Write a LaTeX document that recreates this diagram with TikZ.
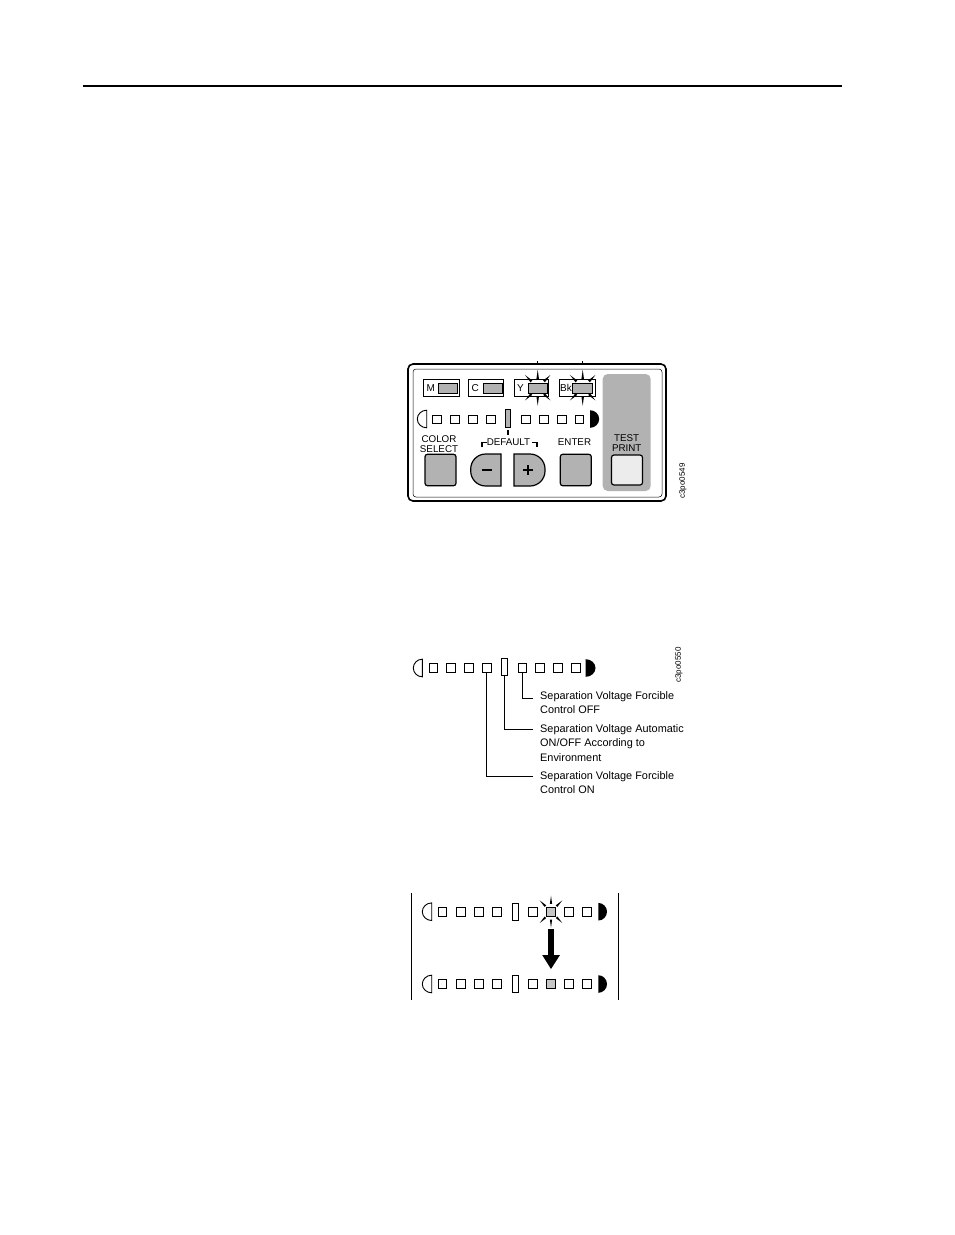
\documentclass[tikz,border=0pt]{standalone}
\usepackage{fontspec}
\setmainfont{Liberation Sans}
\tikzset{
  ledbox/.style={draw, line width=0.8pt, fill=white, minimum size=8.6pt, inner sep=0pt},
  ledlit/.style={ledbox, fill=gray!45},
  ledtall/.style={draw, line width=0.8pt, fill=white, minimum width=5.4pt, minimum height=17pt, inner sep=0pt},
  inkbox/.style={draw, line width=0.7pt, fill=white, minimum height=17pt, inner sep=0pt},
  inkbar/.style={draw, line width=0.8pt, fill=gray!60, minimum height=10pt, inner sep=0pt},
  inktxt/.style={font=\fontsize{10}{11}\selectfont, anchor=west, inner sep=0pt},
  panelbtn/.style={draw, line width=1.2pt, fill=gray!60, rounded corners=2.5pt, minimum width=31pt, minimum height=31.5pt, inner sep=0pt},
  paneltxt/.style={font=\fontsize{9.8}{10.4}\selectfont, align=center, inner sep=0pt},
  calltxt/.style={font=\fontsize{10.9}{14.2}\selectfont, align=left, anchor=north west, inner sep=0pt},
  figid/.style={font=\fontsize{8}{9}\selectfont, rotate=90, inner sep=0pt},
  leader/.style={line width=0.8pt},
}
% spikes round a blinking lamp
\newcommand{\blink}[4]{%
  \foreach \a in {45,90,135,225,270,315}
    \fill (#1,#2)+(\a-8:#3) -- +(\a+8:#3) -- +(\a:#4) -- cycle;
}
% half lamp: style, flat side x, round side x, centre y
\newcommand{\halflamp}[4]{%
  \path[#1] (#2,#4-8.8) .. controls (#2+0.55*#3-0.55*#2,#4-8.8) and (#3,#4-4.8) .. (#3,#4)
    .. controls (#3,#4+4.8) and (#2+0.55*#3-0.55*#2,#4+8.8) .. (#2,#4+8.8) -- cycle;
}
\begin{document}
\begin{tikzpicture}[x=1pt,y=-1pt]
\useasboundingbox (0,0) rectangle (954,1235);
\draw[line width=1.8pt] (83,86) -- (842,86);

% control panel
\draw[line width=1.6pt, rounded corners=5pt] (408,364) rectangle (666,501);
\draw[line width=0.5pt, rounded corners=3pt] (413,369) rectangle (662,497);
\draw[line width=0.7pt] (537.7,361) -- (537.7,364) (582.7,361) -- (582.7,364);
\fill[gray!60, rounded corners=5pt] (602.7,374) rectangle (650.7,491);
\node[inkbox, minimum width=36pt] (mbox) at (441,387.7) {};
\node[inkbox, minimum width=35pt] (cbox) at (485.5,387.7) {};
\node[inkbox, minimum width=34pt] (ybox) at (531,387.7) {};
\node[inkbox, minimum width=36pt] (bkbox) at (577,387.7) {};
\node[inkbar, minimum width=19pt] (mbar) at (447.5,388) {};
\node[inkbar, minimum width=19pt] (cbar) at (492.5,388) {};
\node[inkbar, minimum width=19pt] (ybar) at (537.7,388) {};
\node[inkbar, minimum width=20pt] (bkbar) at (582.7,388) {};
\node[inktxt] (mtxt) at (426.5,388) {M};
\node[inktxt] (ctxt) at (471.5,388) {C};
\node[inktxt] (ytxt) at (517,388) {Y};
\node[inktxt] (bktxt) at (560,388) {Bk};
\blink{537.7}{387.7}{9}{18}
\blink{582.7}{387.7}{9}{18}

\halflamp{draw, line width=0.9pt, fill=white}{426.7}{417.3}{419}
\foreach \x/\n in {436.7/1,455/2,472.7/3,490.7/4,526/5,544/6,561.7/7,579.3/8}
  \node[ledbox] (pa\n) at (\x,419.3) {};
\node[ledtall, fill=gray!60, minimum height=18pt] (pamid) at (508,418.6) {};
\halflamp{fill}{590}{599.2}{419}
\draw[line width=1.2pt] (508,430) -- (508,435);

\node[paneltxt] (colorsel) at (439,444) {COLOR\\SELECT};
\node[paneltxt] (default) at (508.5,441.7) {DEFAULT};
\node[paneltxt] (enter) at (574.5,441.7) {ENTER};
\node[paneltxt] (testprt) at (626.7,442.8) {TEST\\PRINT};
\draw[line width=1.2pt] (482,447) -- (482,442.5) -- (487,442.5) (532,442.5) -- (537,442.5) -- (537,447);

\node[panelbtn] (colorbtn) at (440.5,470) {};
\node[panelbtn] (enterbtn) at (575.8,470) {};
\node[panelbtn, fill=white!85!gray, minimum height=30pt] (testbtn) at (627,470) {};
\filldraw[line width=1.2pt, fill=gray!60, rounded corners=15pt] (501,454) -- (470.7,454) -- (470.7,486) [sharp corners] -- (501,486) -- cycle;
\filldraw[line width=1.2pt, fill=gray!60, rounded corners=15pt] (514,454) -- (545,454) -- (545,486) [sharp corners] -- (514,486) -- cycle;
\draw[line width=1.6pt] (482,470) -- (492,470);
\draw[line width=1.6pt] (523,470) -- (533,470) (528,465) -- (528,475);
\node[figid] (figa) at (683,481) {c3po0549};

% forcible control positions
\halflamp{draw, line width=0.9pt, fill=white}{422.3}{413.3}{668}
\foreach \x/\n in {433.3/1,451/2,469/3,486.7/4,522.3/5,540/6,557.7/7,575.7/8}
  \node[ledbox] (pb\n) at (\x,668) {};
\node[ledtall] (pbmid) at (504.5,667.3) {};
\halflamp{fill}{585.7}{595.5}{668}
\node[calltxt] (offtxt) at (540,691.5) {Separation Voltage Forcible\\Control OFF};
\node[calltxt] (autotxt) at (540,724.5) {Separation Voltage Automatic\\ON/OFF According to\\Environment};
\node[calltxt] (ontxt) at (540,771.5) {Separation Voltage Forcible\\Control ON};
\coordinate (offend) at (533.3,698.3);
\coordinate (autoend) at (533.3,729);
\coordinate (onend) at (533.3,776);
\draw[leader] (pb5.south) |- (offend);
\draw[leader] (pbmid.south) |- (autoend);
\draw[leader] (pb4.south) |- (onend);
\node[figid] (figb) at (679,665) {c3po0550};

% blink then steady
\draw[line width=0.9pt] (411,893) -- (411,1000) (618.3,893) -- (618.3,1000);
\foreach \y/\r in {911.7/c,984/d} {
  \halflamp{draw, line width=0.9pt, fill=white}{431.7}{422.3}{\y}
  \foreach \x/\n in {442.3/1,460.7/2,479/3,497/4,532.7/5,568.7/7,587/8}
    \node[ledbox] (p\r\n) at (\x,\y) {};
  \node[ledlit] (p\r6) at (551,\y) {};
  \node[ledtall] (p\r mid) at (515.3,\y) {};
  \halflamp{fill}{598.3}{607}{\y}
}
\blink{551}{911.7}{8}{16}
\fill (548.2,929) -- (553.8,929) -- (553.8,955) -- (560,955) -- (551,969) -- (542.2,955) -- (548.2,955) -- cycle;
\end{tikzpicture}
\end{document}
